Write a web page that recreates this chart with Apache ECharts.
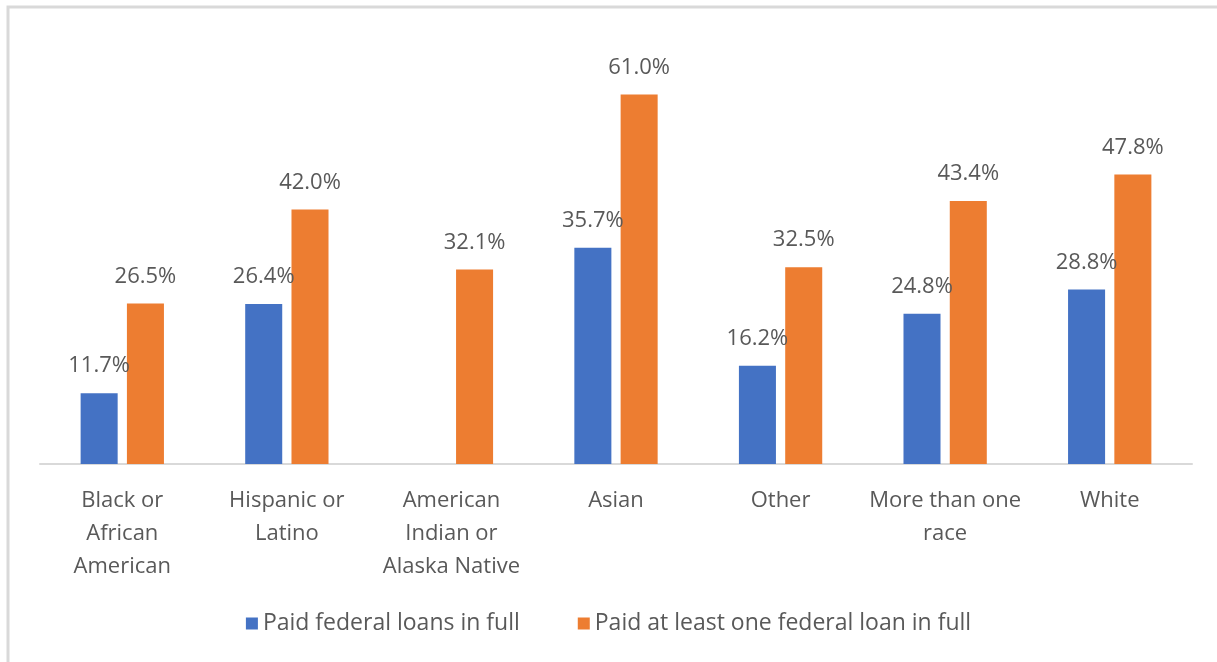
<!DOCTYPE html>
<html>
<head>
<meta charset="utf-8">
<script src="https://cdn.jsdelivr.net/npm/echarts@6/dist/echarts.min.js"></script>
<style>
html,body{margin:0;padding:0;background:#fff;}
#chart{width:1217px;height:662px;}
</style>
</head>
<body>
<div id="chart"></div>
<script>
// 数据
var categories = ['Black or\nAfrican\nAmerican', 'Hispanic or\nLatino', 'American\nIndian or\nAlaska Native', 'Asian', 'Other', 'More than one\nrace', 'White'];
var paidFull = [11.7, 26.4, null, 35.7, 16.2, 24.8, 28.8];
var paidOne = [26.5, 42.0, 32.1, 61.0, 32.5, 43.4, 47.8];
var seriesNames = ['Paid federal loans in full', 'Paid at least one federal loan in full'];

var font = '"Open Sans", sans-serif';
var myChart = echarts.init(document.getElementById('chart'));

var labelStyle = {
    show: true,
    position: 'top',
    distance: 16,
    color: '#595959',
    fontSize: 22,
    fontFamily: font,
    formatter: function (p) { return p.value.toFixed(1) + '%'; }
};

myChart.setOption({
    animation: false,
    grid: { left: 40, right: 25, top: 40, bottom: 198 },
    graphic: [{
        type: 'rect',
        shape: { x: 8, y: 7, width: 1300, height: 700 },
        style: { fill: 'none', stroke: '#d9d9d9', lineWidth: 3 },
        silent: true
    }],
    legend: {
        bottom: 22,
        left: 'center',
        itemWidth: 12,
        itemHeight: 12,
        itemGap: 58,
        icon: 'rect',
        textStyle: { color: '#595959', fontSize: 23, fontFamily: font },
        data: seriesNames
    },
    xAxis: {
        type: 'category',
        data: categories,
        axisTick: { show: false },
        axisLine: { lineStyle: { color: '#d9d9d9', width: 2 } },
        axisLabel: {
            interval: 0,
            margin: 20,
            color: '#595959',
            fontSize: 22,
            lineHeight: 33,
            fontFamily: font
        }
    },
    yAxis: {
        type: 'value',
        min: 0,
        max: 70,
        show: false,
        splitLine: { show: false }
    },
    series: [{
        name: seriesNames[0],
        type: 'bar',
        data: paidFull,
        barWidth: '22.5%',
        barGap: '25%',
        itemStyle: { color: '#4472C4' },
        label: labelStyle
    }, {
        name: seriesNames[1],
        type: 'bar',
        data: paidOne,
        barWidth: '22.5%',
        itemStyle: { color: '#ED7D31' },
        label: labelStyle
    }]
});
window.onresize = myChart.resize;
</script>
</body>
</html>
